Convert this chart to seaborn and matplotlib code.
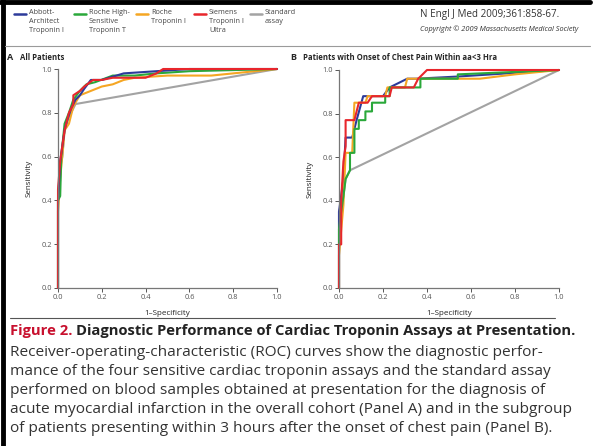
import matplotlib
matplotlib.use("Agg")
import matplotlib.pyplot as plt
import seaborn as sns
import pandas as pd
from matplotlib.lines import Line2D

sns.set_theme(style="white")
plt.rcParams['font.family'] = ['Open Sans', 'DejaVu Sans']

assays = ["Abbott-\nArchitect\nTroponin I", "Roche High-\nSensitive\nTroponin T",
          "Roche\nTroponin I", "Siemens\nTroponin I\nUltra", "Standard\nassay"]
colors = ["#2d3b9a", "#2aa83a", "#f5a623", "#e8262c", "#a3a3a3"]
ticks = [0.0, 0.2, 0.4, 0.6, 0.8, 1.0]
tick_labels = ["0.0", "0.2", "0.4", "0.6", "0.8", "1.0"]

# Panel A: all patients (1-specificity, sensitivity)
a_abbott_x = [0, 0, 0.01, 0.02, 0.03, 0.04, 0.06, 0.08, 0.10, 0.12, 0.15, 0.20, 0.30, 0.45, 0.60, 1.0]
a_abbott_y = [0, 0.40, 0.58, 0.65, 0.72, 0.76, 0.82, 0.86, 0.88, 0.91, 0.95, 0.95, 0.98, 0.99, 1.0, 1.0]
a_rochet_x = [0, 0, 0.01, 0.015, 0.03, 0.05, 0.07, 0.10, 0.13, 0.17, 0.25, 0.35, 0.45, 0.60, 0.80, 1.0]
a_rochet_y = [0, 0.40, 0.42, 0.60, 0.75, 0.80, 0.86, 0.90, 0.93, 0.94, 0.97, 0.97, 0.98, 0.99, 0.995, 1.0]
a_rochei_x = [0, 0, 0.01, 0.03, 0.05, 0.07, 0.10, 0.15, 0.20, 0.25, 0.30, 0.35, 0.50, 0.70, 0.90, 1.0]
a_rochei_y = [0, 0.35, 0.50, 0.72, 0.75, 0.83, 0.88, 0.90, 0.92, 0.93, 0.95, 0.96, 0.97, 0.97, 0.99, 1.0]
a_siemens_x = [0, 0, 0.01, 0.03, 0.05, 0.07, 0.07, 0.10, 0.12, 0.16, 0.20, 0.25, 0.40, 0.45, 0.48, 1.0]
a_siemens_y = [0, 0.45, 0.58, 0.72, 0.80, 0.84, 0.88, 0.90, 0.92, 0.95, 0.95, 0.96, 0.96, 0.98, 1.0, 1.0]
a_std_x = [0, 0, 0.01, 0.02, 0.03, 0.05, 0.08, 1.0]
a_std_y = [0, 0.40, 0.55, 0.60, 0.72, 0.78, 0.84, 1.0]

# Panel B: onset of chest pain within 3 h
b_abbott_x = [0, 0, 0.02, 0.03, 0.06, 0.08, 0.11, 0.20, 0.23, 0.31, 0.35, 0.54, 1.0]
b_abbott_y = [0, 0.35, 0.50, 0.69, 0.69, 0.77, 0.88, 0.88, 0.92, 0.96, 0.96, 0.97, 1.0]
b_rochet_x = [0, 0, 0.01, 0.02, 0.03, 0.05, 0.05, 0.07, 0.07, 0.09, 0.09, 0.12, 0.12, 0.15, 0.15,
              0.21, 0.21, 0.23, 0.23, 0.37, 0.37, 0.54, 0.54, 1.0]
b_rochet_y = [0, 0.27, 0.35, 0.42, 0.50, 0.54, 0.62, 0.62, 0.73, 0.73, 0.77, 0.77, 0.81, 0.81, 0.85,
              0.85, 0.88, 0.88, 0.92, 0.92, 0.96, 0.96, 0.98, 1.0]
b_rochei_x = [0, 0, 0.02, 0.03, 0.06, 0.07, 0.12, 0.13, 0.21, 0.22, 0.30, 0.31, 0.64, 0.80, 1.0]
b_rochei_y = [0, 0.15, 0.38, 0.62, 0.62, 0.85, 0.85, 0.88, 0.88, 0.92, 0.92, 0.96, 0.96, 0.98, 1.0]
b_siemens_x = [0, 0, 0.01, 0.01, 0.02, 0.03, 0.03, 0.07, 0.09, 0.13, 0.15, 0.23, 0.24, 0.34, 0.36, 0.40, 1.0]
b_siemens_y = [0, 0.20, 0.20, 0.40, 0.58, 0.65, 0.77, 0.77, 0.85, 0.85, 0.88, 0.88, 0.92, 0.92, 0.96, 1.0, 1.0]
b_std_x = [0, 0, 0.02, 0.03, 0.05, 1.0]
b_std_y = [0, 0.35, 0.42, 0.50, 0.54, 1.0]


def frame(series):
    rows = []
    for name, xs, ys in series:
        for i, (x, y) in enumerate(zip(xs, ys)):
            rows.append({"assay": name, "fpr": x, "tpr": y, "i": i})
    return pd.DataFrame(rows)


dfA = frame([(assays[4], a_std_x, a_std_y), (assays[2], a_rochei_x, a_rochei_y),
             (assays[1], a_rochet_x, a_rochet_y), (assays[0], a_abbott_x, a_abbott_y),
             (assays[3], a_siemens_x, a_siemens_y)])
dfB = frame([(assays[4], b_std_x, b_std_y), (assays[0], b_abbott_x, b_abbott_y),
             (assays[2], b_rochei_x, b_rochei_y), (assays[1], b_rochet_x, b_rochet_y),
             (assays[3], b_siemens_x, b_siemens_y)])
palette = dict(zip(assays, colors))

W, H = 594, 446
fig = plt.figure(figsize=(W / 100, H / 100), dpi=100)
fig.patch.set_facecolor("white")


def px(x0, y0, x1, y1):
    return [x0 / W, 1 - y1 / H, (x1 - x0) / W, (y1 - y0) / H]


def style(ax):
    ax.set_xlim(0, 1.0)
    ax.set_ylim(0, 1.0)
    ax.set_xticks(ticks)
    ax.set_yticks(ticks)
    ax.set_xticklabels(tick_labels)
    ax.set_yticklabels(tick_labels)
    ax.tick_params(axis="both", labelsize=5.3, colors="#555555", length=3, width=0.7,
                   direction="out", pad=1.5, bottom=True, left=True)
    for s in ["top", "right"]:
        ax.spines[s].set_visible(False)
    for s in ["left", "bottom"]:
        ax.spines[s].set_color("#777777")
        ax.spines[s].set_linewidth(0.9)
    ax.set_xlabel("1–Specificity", fontsize=5.8, color="#222222", labelpad=6)
    ax.set_ylabel("Sensitivity", fontsize=5.8, color="#222222", labelpad=6)
    ax.set_facecolor("white")
    ax.patch.set_alpha(0)


axA = fig.add_axes(px(58, 69, 277, 288))
sns.lineplot(data=dfA, x="fpr", y="tpr", hue="assay", units="assay", estimator=None,
             sort=False, palette=palette, linewidth=1.5, legend=False, ax=axA, clip_on=False)
style(axA)

axB = fig.add_axes(px(339, 70, 559, 288))
sns.lineplot(data=dfB, x="fpr", y="tpr", hue="assay", units="assay", estimator=None,
             sort=False, palette=palette, linewidth=1.5, legend=False, ax=axB, clip_on=False)
style(axB)

# frame borders
fig.add_artist(Line2D([0, 590 / W], [1 - 2 / H, 1 - 2 / H], color="black", lw=3.5))
fig.add_artist(Line2D([2.5 / W, 2.5 / W], [0, 1], color="black", lw=3.5))
fig.add_artist(Line2D([5 / W, 590 / W], [1 - 46 / H, 1 - 46 / H], color="#9a9a9a", lw=0.8))
fig.add_artist(Line2D([10 / W, 555 / W], [1 - 318 / H, 1 - 318 / H], color="#555555", lw=0.8))

# legend
leg_x = [14, 74, 136, 194, 250]
for lx, name, col in zip(leg_x, assays, colors):
    fig.add_artist(Line2D([lx / W, (lx + 12) / W], [1 - 14 / H, 1 - 14 / H], color=col, lw=1.8))
    fig.text((lx + 15) / W, 1 - 9.5 / H, name, fontsize=5.2, va="top", ha="left",
             color="#444444", linespacing=1.3)

fig.text(420 / W, 1 - 14 / H, "N Engl J Med 2009;361:858-67.", fontsize=7.1,
         va="center", ha="left", color="#333333")
fig.text(420 / W, 1 - 29 / H, "Copyright © 2009 Massachusetts Medical Society", fontsize=5.3,
         style="italic", va="center", ha="left", color="#333333")

fig.text(7 / W, 1 - 58 / H, "A", fontsize=6.5, fontweight="bold", va="center", ha="left")
fig.text(20 / W, 1 - 58 / H, "All Patients", fontsize=5.6, fontweight="bold", va="center", ha="left")
fig.text(290 / W, 1 - 58 / H, "B", fontsize=6.5, fontweight="bold", va="center", ha="left")
fig.text(303 / W, 1 - 58 / H, "Patients with Onset of Chest Pain Within aa<3 Hra", fontsize=5.6,
         fontweight="bold", va="center", ha="left")

# caption
t1 = fig.text(10 / W, 1 - 331 / H, "Figure 2.", fontsize=10.6, fontweight="bold",
              color="#c8102e", va="center", ha="left")
fig.canvas.draw()
bb = t1.get_window_extent()
fig.text((bb.x1 + 4) / W, 1 - 331 / H,
         "Diagnostic Performance of Cardiac Troponin Assays at Presentation.",
         fontsize=10.6, fontweight="bold", color="#222222", va="center", ha="left")
body = ["Receiver-operating-characteristic (ROC) curves show the diagnostic perfor-",
        "mance of the four sensitive cardiac troponin assays and the standard assay",
        "performed on blood samples obtained at presentation for the diagnosis of",
        "acute myocardial infarction in the overall cohort (Panel A) and in the subgroup",
        "of patients presenting within 3 hours after the onset of chest pain (Panel B)."]
for k, line in enumerate(body):
    fig.text(10 / W, 1 - (352 + 19.2 * k) / H, line, fontsize=11.1, color="#333333",
             va="center", ha="left")

fig.savefig("out.png", dpi=100)
